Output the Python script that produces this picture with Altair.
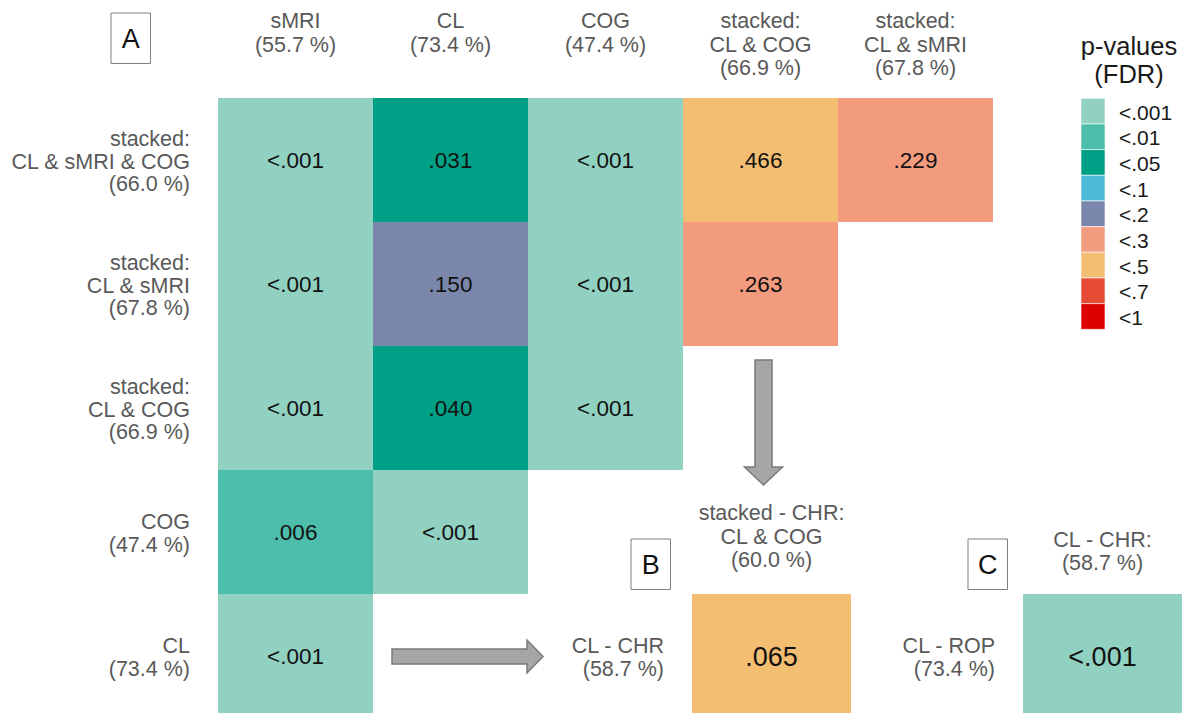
import altair as alt
import pandas as pd

W, H = 1189, 713

# ---- main comparison matrix (panel A) ----
col_labels = [
    "sMRI\n(55.7 %)",
    "CL\n(73.4 %)",
    "COG\n(47.4 %)",
    "stacked:\nCL & COG\n(66.9 %)",
    "stacked:\nCL & sMRI\n(67.8 %)",
]
row_labels = [
    "stacked:\nCL & sMRI & COG\n(66.0 %)",
    "stacked:\nCL & sMRI\n(67.8 %)",
    "stacked:\nCL & COG\n(66.9 %)",
    "COG\n(47.4 %)",
    "CL\n(73.4 %)",
]
# FDR-corrected p-values shown in each cell (lower triangle)
cell_text = [
    ["<.001", ".031", "<.001", ".466", ".229"],
    ["<.001", ".150", "<.001", ".263"],
    ["<.001", ".040", "<.001"],
    [".006", "<.001"],
    ["<.001"],
]
# colour class of each cell
cell_bin = [
    ["<.001", "<.05", "<.001", "<.5", "<.3"],
    ["<.001", "<.2", "<.001", "<.3"],
    ["<.001", "<.05", "<.001"],
    ["<.01", "<.001"],
    ["<.001"],
]

# ---- panel B ----
b_col = "stacked - CHR:\nCL & COG\n(60.0 %)"
b_row = "CL - CHR\n(58.7 %)"
b_text = ".065"
b_bin = "<.5"

# ---- panel C ----
c_col = "CL - CHR:\n(58.7 %)"
c_row = "CL - ROP\n(73.4 %)"
c_text = "<.001"
c_bin = "<.001"

# ---- colour legend ----
legend_labels = ["<.001", "<.01", "<.05", "<.1", "<.2", "<.3", "<.5", "<.7", "<1"]
legend_colors = ["#91D1C2", "#4DBDAC", "#00A087", "#4DBBD5", "#7A87AB",
                 "#F39B7F", "#F3BD72", "#E64B35", "#DC0000"]
legend_title = "p-values\n(FDR)"

# ---- layout (pixel units of the canvas) ----
X0, Y0, CW, RH = 218, 98, 155, 124     # matrix origin, cell width / height
GAP = 28                                # label-to-cell gap
BX, CX, SW = 692, 1023, 159             # x of the B and C cells, their width
LX, LY, LW, LH = 1081, 98.3, 24, 25.67  # legend swatches
FONT = "Liberation Sans"
GREY = "#595959"
LABEL_FS = 21.5
HEAD_LH, ROW_LH = 23.5, 22.5            # line heights of column / row labels

xs = alt.Scale(domain=[0, W], nice=False, zero=False)
ys = alt.Scale(domain=[0, H], nice=False, zero=False, reverse=True)
color = alt.Color("bin:N", scale=alt.Scale(domain=legend_labels, range=legend_colors), legend=None)


def X(f="x"):
    return alt.X(f"{f}:Q", scale=xs, axis=None)


def Y(f="y"):
    return alt.Y(f"{f}:Q", scale=ys, axis=None)


def n_lines(s):
    return s.count("\n") + 1


# cells
cells = []
for r, row in enumerate(cell_text):
    for c, t in enumerate(row):
        cells.append(dict(x=X0 + c * CW, x2=X0 + (c + 1) * CW, y=Y0 + r * RH,
                          y2=Y0 + (r + 1) * RH, bin=cell_bin[r][c], text=t, big=False))
r4 = Y0 + 4 * RH
cells.append(dict(x=BX, x2=BX + SW, y=r4, y2=r4 + RH, bin=b_bin, text=b_text, big=True))
cells.append(dict(x=CX, x2=CX + SW, y=r4, y2=r4 + RH, bin=c_bin, text=c_text, big=True))
cells = pd.DataFrame(cells)
cells["cx"] = (cells.x + cells.x2) / 2
cells["cy"] = (cells.y + cells.y2) / 2

rects = alt.Chart(cells).mark_rect(clip=True).encode(
    x=X(), x2="x2:Q", y=Y(), y2="y2:Q", color=color)
vals_small = alt.Chart(cells[~cells.big]).mark_text(
    font=FONT, fontSize=22.5, color="#111111", baseline="alphabetic", dy=8.3
).encode(x=X("cx"), y=Y("cy"), text="text:N")
vals_big = alt.Chart(cells[cells.big]).mark_text(
    font=FONT, fontSize=27, color="#111111", baseline="alphabetic", dy=10
).encode(x=X("cx"), y=Y("cy"), text="text:N")

head_style = dict(font=FONT, fontSize=LABEL_FS, color=GREY, baseline="alphabetic",
                  lineBreak="\n", lineHeight=HEAD_LH)

# column headers of panel A: first line on a common baseline
heads = pd.DataFrame(dict(x=[X0 + (c + 0.5) * CW for c in range(len(col_labels))],
                          y=[28] * len(col_labels), text=col_labels))
head_txt = alt.Chart(heads).mark_text(**head_style).encode(x=X(), y=Y(), text="text:N")

# column headers of panels B and C: last line on a common baseline
bc_last = [567, 570]
heads_bc = pd.DataFrame(dict(
    x=[BX + SW / 2, CX + SW / 2],
    y=[b - (n_lines(t) - 1) * HEAD_LH for b, t in zip(bc_last, [b_col, c_col])],
    text=[b_col, c_col]))
head_bc_txt = alt.Chart(heads_bc).mark_text(**head_style).encode(x=X(), y=Y(), text="text:N")

# row labels: right-aligned, block centred on the row
row_text = row_labels + [b_row, c_row]
row_cy = [Y0 + (r + 0.5) * RH for r in range(len(row_labels))] + [r4 + RH / 2] * 2
rows = pd.DataFrame(dict(
    x=[X0 - GAP] * len(row_labels) + [BX - GAP, CX - GAP],
    y=[cy + 8.5 - (n_lines(t) - 1) / 2 * ROW_LH for cy, t in zip(row_cy, row_text)],
    text=row_text))
row_txt = alt.Chart(rows).mark_text(
    font=FONT, fontSize=LABEL_FS, color=GREY, baseline="alphabetic", align="right",
    lineBreak="\n", lineHeight=ROW_LH
).encode(x=X(), y=Y(), text="text:N")

# legend swatches and labels
leg = pd.DataFrame(dict(bin=legend_labels))
leg["y"] = [LY + i * LH for i in range(len(legend_labels))]
leg["y2"] = leg.y + LH
leg["cy"] = leg.y + LH / 2
leg["x"] = LX
leg["x2"] = LX + LW
leg["tx"] = 1119
leg_rect = alt.Chart(leg).mark_rect(stroke="white", strokeWidth=0.6).encode(
    x=X(), x2="x2:Q", y=Y(), y2="y2:Q", color=color)
leg_lab = alt.Chart(leg).mark_text(
    font=FONT, fontSize=21, color="#1a1a1a", align="left", baseline="alphabetic", dy=8.5
).encode(x=X("tx"), y=Y("cy"), text="bin:N")
leg_title = alt.Chart(pd.DataFrame(dict(x=[1129], y=[55], text=[legend_title]))).mark_text(
    font=FONT, fontSize=25.5, color="#1a1a1a", baseline="alphabetic", lineBreak="\n", lineHeight=27.5
).encode(x=X(), y=Y(), text="text:N")

# panel letters in boxes
boxes = pd.DataFrame(dict(letter=["A", "B", "C"], x=[111, 631, 968], y=[13, 539, 539]))
boxes["x2"] = boxes.x + 39.5
boxes["y2"] = boxes.y + 50.5
boxes["cx"] = (boxes.x + boxes.x2) / 2
boxes["cy"] = (boxes.y + boxes.y2) / 2
box_rect = alt.Chart(boxes).mark_rect(fill="white", stroke="#7f7f7f", strokeWidth=1).encode(
    x=X(), x2="x2:Q", y=Y(), y2="y2:Q")
box_txt = alt.Chart(boxes).mark_text(
    font=FONT, fontSize=27, color="#111111", baseline="alphabetic", dy=9.7
).encode(x=X("cx"), y=Y("cy"), text="letter:N")


# block arrows drawn as filled areas
def arrow(a0, a1, c, shaft, head, head_len):
    """Outline of a straight block arrow along one axis from a0 to a1 at cross position c."""
    hb = a1 - head_len
    return pd.DataFrame(dict(
        a=[a0, hb, hb + 0.01, a1],
        lo=[c - shaft, c - shaft, c - head, c],
        hi=[c + shaft, c + shaft, c + head, c]))


arrow_style = dict(fill="#a6a6a6", stroke="#7a7a7a", strokeWidth=1.5, interpolate="linear")
right = arrow(392, 543, 656.5, 7.5, 16.5, 16)
right_arrow = alt.Chart(right).mark_area(orient="vertical", **arrow_style).encode(
    x=X("a"), y=Y("lo"), y2="hi:Q")
down = arrow(360, 485, 763.5, 8.5, 19, 18)
down_arrow = alt.Chart(down).mark_area(orient="horizontal", **arrow_style).encode(
    y=Y("a"), x=X("lo"), x2="hi:Q")

chart = alt.layer(
    rects, vals_small, vals_big, head_txt, head_bc_txt, row_txt,
    leg_rect, leg_lab, leg_title, box_rect, box_txt, right_arrow, down_arrow
).properties(
    width=W, height=H, padding=0, autosize=alt.AutoSizeParams(type="none")
).configure_view(stroke=None)

chart.save("out.html", embed_options={"renderer": "svg", "actions": False})
